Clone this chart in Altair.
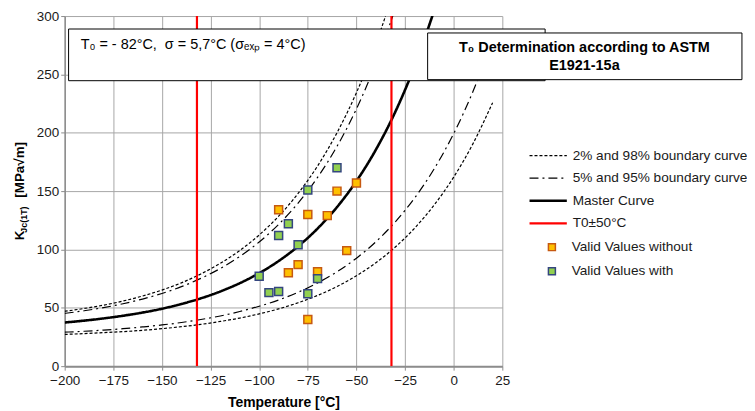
import altair as alt
import pandas as pd

# ---------------- data ----------------
T_GRID = [-200, -190, -180, -170, -160, -150, -140, -130, -120, -110, -100,
          -90, -80, -70, -60, -50, -40, -30, -20, -10, 0, 10, 20]
MASTER = [37.4, 39.0, 40.9, 43.2, 45.9, 49.2, 53.3, 58.1, 64.0, 71.1, 79.7,
          90.1, 102.7, 117.9, 136.3, 158.6, 185.5, 218.0, 257.4, 304.9]
P02 = [27.2, 27.9, 28.7, 29.6, 30.7, 32.1, 33.8, 35.8, 38.3, 41.2, 44.8,
       49.1, 54.3, 60.6, 68.2, 77.5, 88.6, 102.1, 118.4, 138.2, 162.0, 190.9, 225.8]
P05 = [29.1, 29.9, 30.9, 32.1, 33.6, 35.3, 37.4, 40.0, 43.0, 46.8, 51.3,
       56.7, 63.3, 71.3, 80.9, 92.5, 106.6, 123.7, 144.3, 169.2, 199.3, 235.7, 279.7]
P95 = [45.2, 47.5, 50.2, 53.5, 57.5, 62.3, 68.1, 75.2, 83.7, 94.0, 106.4,
       121.5, 139.7, 161.7, 188.3, 220.5, 259.5, 306.6]
P98 = [47.0, 49.4, 52.3, 55.8, 60.1, 65.2, 71.4, 79.0, 88.1, 99.1, 112.4,
       128.5, 148.0, 171.5, 200.0, 234.4, 276.0, 326.3]
T0_LIMITS = [-132, -32]

ORANGE_T = [-50, -60, -90, -75, -65, -55, -80, -85, -70, -75]
ORANGE_K = [157, 150, 134, 130, 129, 99, 87, 80, 81, 40]
GREEN_T = [-60, -75, -85, -90, -80, -100, -70, -95, -90, -75]
GREEN_K = [170, 151, 122, 112, 104, 77, 75, 63, 64, 62]

CURVES = ["2% and 98% boundary curve", "5% and 95% boundary curve",
          "Master Curve", "T0±50°C"]
GROUPS = ["Valid Values without", "Valid Values with"]

X_TICKS = [-200, -175, -150, -125, -100, -75, -50, -25, 0, 25]
Y_TICKS = [0, 50, 100, 150, 200, 250, 300]

TEXT_BOX1 = "T₀ = - 82°C,\u00a0\u00a0σ = 5,7°C (σₑₓₚ = 4°C)"
TEXT_BOX2 = ["T₀ Determination according to ASTM", "E1921-15a"]

# ---------------- tables ----------------
rows = []
for name, lab, vals in [("p02", CURVES[0], P02), ("p98", CURVES[0], P98),
                        ("p05", CURVES[1], P05), ("p95", CURVES[1], P95),
                        ("mc", CURVES[2], MASTER)]:
    for t, k in zip(T_GRID, vals):
        rows.append({"T": t, "K": k, "curve": lab, "line": name})
lines_df = pd.DataFrame(rows)
rules_df = pd.DataFrame({"T": T0_LIMITS, "curve": [CURVES[3]] * 2})

pts_df = pd.DataFrame({
    "T": ORANGE_T + GREEN_T,
    "K": ORANGE_K + GREEN_K,
    "group": [GROUPS[0]] * len(ORANGE_T) + [GROUPS[1]] * len(GREEN_T),
})

box_df = pd.DataFrame({"x1": [-198, -13.4], "x2": [47, 148.2],
                       "y1": [244.6, 245.5], "y2": [288.9, 285.5]})
txt1_df = pd.DataFrame({"x": [-191.8], "y": [275.3], "t": [TEXT_BOX1]})
txt2_df = pd.DataFrame({"x": [67.2, 67.2], "y": [272.7, 257.4], "t": TEXT_BOX2})
ytitle_df = pd.DataFrame({"x": [-222.8, -221.0, -222.8], "y": [112.0, 125.6, 168.2],
                          "t": ["K", "Jc(1T)", "[MPa√m]"], "fs": [13.5, 9, 13.5]})

# ---------------- scales / axes ----------------
XS = alt.Scale(domain=[-200, 25], nice=False, zero=False)
YS = alt.Scale(domain=[0, 300], nice=False, zero=False)
XAX = alt.Axis(values=X_TICKS, title="Temperature [°C]", grid=True,
               gridColor="#A6A6A6", domainColor="#8C8C8C", domainWidth=2,
               tickColor="#8C8C8C", tickSize=4, labelFontSize=13.5,
               labelColor="#1a1a1a", titleFontSize=14, titleFontWeight="bold",
               titleColor="#000000", labelPadding=3, titlePadding=9,
               labelFlush=False, labelOverlap=False)
YAX = alt.Axis(values=Y_TICKS, title=None, grid=True, gridColor="#A6A6A6",
               domainColor="#8C8C8C", domainWidth=1.5, tickColor="#8C8C8C",
               tickSize=4, labelFontSize=13.5, labelColor="#1a1a1a", labelPadding=2,
               labelFlush=False, labelOverlap=False)

def X(f):
    return alt.X(f, type="quantitative", scale=XS, axis=XAX)

def Y(f):
    return alt.Y(f, type="quantitative", scale=YS, axis=YAX)

W_EXPR = ("datum.label === 'Master Curve' ? 2.6 : "
          "(datum.label === 'T0±50°C' ? 2.2 : 1.2)")
LINE_LEG = alt.Legend(title=None, orient="none", legendX=468, legendY=133.5,
                      symbolType="M-1,0H4", symbolSize=225, labelOffset=29,
                      labelFontSize=13.7, labelLimit=300, rowPadding=7.7,
                      padding=0, labelColor="#1a1a1a",
                      symbolStrokeWidth=alt.ExprRef(expr=W_EXPR))
color_enc = alt.Color("curve:N", scale=alt.Scale(domain=CURVES,
                      range=["#000000", "#000000", "#000000", "#FF0000"]), legend=LINE_LEG)
dash_enc = alt.StrokeDash("curve:N", scale=alt.Scale(domain=CURVES,
                          range=[[3, 2], [9, 4, 2, 4], [1, 0], [1, 0]]), legend=LINE_LEG)

bound_lines = alt.Chart(lines_df).transform_filter(
    alt.FieldOneOfPredicate(field="curve", oneOf=CURVES[:2])
).mark_line(clip=True, interpolate="monotone", strokeWidth=1.2).encode(
    x=X("T"), y=Y("K"), detail="line:N", color=color_enc, strokeDash=dash_enc)

master_line = alt.Chart(lines_df).transform_filter(
    alt.FieldEqualPredicate(field="curve", equal=CURVES[2])
).mark_line(clip=True, interpolate="monotone", strokeWidth=2.6).encode(
    x=X("T"), y=Y("K"), detail="line:N", color=color_enc, strokeDash=dash_enc)

rules = alt.Chart(rules_df).mark_rule(clip=True, strokeWidth=2.2).encode(
    x=X("T"), color=color_enc, strokeDash=dash_enc)

PT_LEG = alt.Legend(title=None, orient="none", legendX=483, legendY=225.5,
                    symbolType="square", symbolSize=49, symbolStrokeWidth=1.5,
                    labelOffset=13, labelFontSize=13.7, labelLimit=300,
                    rowPadding=9.2, padding=0, labelColor="#1a1a1a")
points = alt.Chart(pts_df).mark_square(size=64, strokeWidth=1.5, opacity=1).encode(
    x=X("T"), y=Y("K"),
    fill=alt.Fill("group:N", scale=alt.Scale(domain=GROUPS, range=["#FFC000", "#92D050"]), legend=PT_LEG),
    stroke=alt.Stroke("group:N", scale=alt.Scale(domain=GROUPS, range=["#C65911", "#34467F"]), legend=PT_LEG),
)

boxes = alt.Chart(box_df).mark_rect(fill="white", stroke="black", strokeWidth=1, clip=False).encode(
    x=X("x1"), x2="x2", y=Y("y1"), y2="y2")

txt1 = alt.Chart(txt1_df).mark_text(align="left", baseline="middle", fontSize=14.5,
                                    color="#000000", clip=False).encode(
    x=X("x"), y=Y("y"), text="t:N")
txt2 = alt.Chart(txt2_df).mark_text(align="center", baseline="middle", fontSize=14.5,
                                    fontWeight="bold", color="#000000", clip=False).encode(
    x=X("x"), y=Y("y"), text="t:N")
ytitle = alt.Chart(ytitle_df).mark_text(align="center", baseline="middle", angle=270,
                                        fontWeight="bold", color="#000000", clip=False).encode(
    x=X("x"), y=Y("y"), text="t:N", size=alt.Size("fs:Q", scale=None, legend=None))

chart = alt.layer(bound_lines, master_line, rules, points, boxes, txt1, txt2, ytitle).properties(
    width=440, height=352,
    padding={"left": 57, "top": 7, "right": 246, "bottom": 44},
    autosize=alt.AutoSizeParams(type="none"),
).configure(font="Liberation Sans").configure_view(stroke=None)

chart.save("out.html", embed_options={"renderer": "svg", "actions": False})
